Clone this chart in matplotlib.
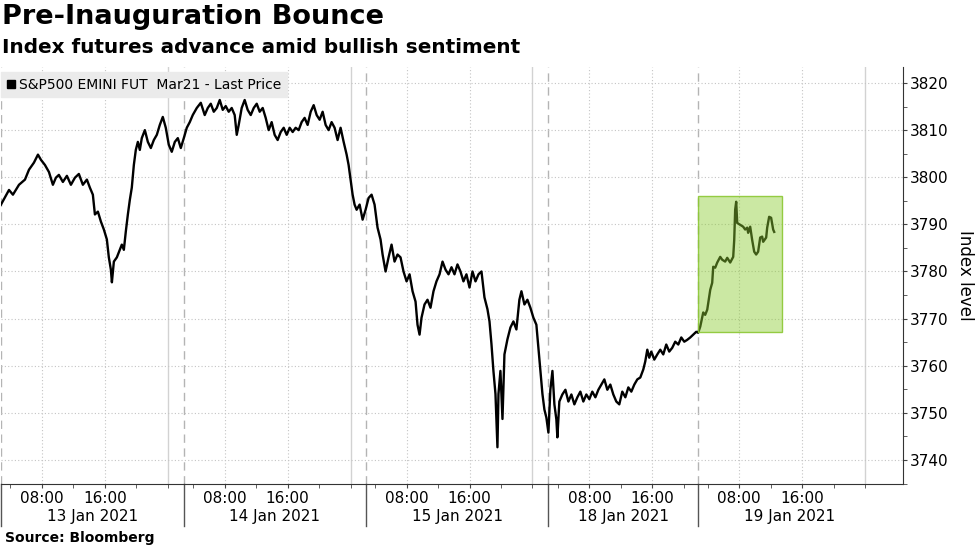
import numpy as np
import matplotlib.pyplot as plt
from matplotlib.lines import Line2D
from matplotlib.patches import Rectangle
from matplotlib.ticker import FixedLocator, MultipleLocator


# x = trading hours on the compressed Bloomberg axis (breaks/weekend removed)
day13 = [(0.00, 3794.2), (1.02, 3797.3), (1.52, 3796.3), (2.29, 3798.4), (3.05, 3799.5),
         (3.56, 3801.6), (4.19, 3803.1), (4.70, 3804.8), (5.08, 3803.7), (5.59, 3802.6),
         (6.10, 3801.1), (6.60, 3798.4), (6.98, 3799.9), (7.36, 3800.5), (7.87, 3799.0),
         (8.38, 3800.3), (8.89, 3798.4), (9.40, 3799.9), (9.90, 3800.7), (10.41, 3798.4),
         (10.92, 3799.5), (11.30, 3797.8), (11.68, 3796.3), (11.94, 3792.1), (12.32, 3792.7),
         (12.70, 3790.6), (13.08, 3788.9), (13.46, 3786.8), (13.71, 3783.0), (13.97, 3780.4),
         (14.10, 3777.7), (14.35, 3782.1), (14.73, 3783.0), (15.11, 3784.6), (15.36, 3785.7),
         (15.62, 3784.6), (15.87, 3788.5), (16.13, 3792.1), (16.38, 3795.2), (16.63, 3797.8),
         (16.89, 3802.6), (17.14, 3805.8), (17.40, 3807.5), (17.65, 3805.8), (17.90, 3808.3),
         (18.29, 3810.0), (18.67, 3807.5), (19.05, 3806.2), (19.43, 3807.9), (19.81, 3809.0),
         (20.19, 3811.1), (20.57, 3812.8), (20.95, 3810.5), (21.33, 3806.9), (21.71, 3805.4),
         (22.10, 3807.5), (22.48, 3808.3), (22.86, 3806.2), (23.24, 3808.3)]

day14 = [(23.62, 3810.5), (24.00, 3811.7), (24.38, 3813.2), (24.89, 3814.7), (25.40, 3815.8),
         (25.90, 3813.2), (26.29, 3814.7), (26.67, 3815.6), (27.05, 3813.9), (27.43, 3814.7),
         (27.81, 3816.4), (28.19, 3814.3), (28.57, 3815.1), (28.95, 3813.9), (29.33, 3814.7),
         (29.71, 3813.2), (29.97, 3809.0), (30.22, 3811.1), (30.60, 3814.7), (30.98, 3816.4),
         (31.36, 3814.3), (31.75, 3813.2), (32.13, 3814.7), (32.51, 3815.6), (32.89, 3813.9),
         (33.27, 3814.7), (33.65, 3812.6), (34.03, 3810.0), (34.41, 3811.7), (34.79, 3809.0),
         (35.17, 3807.9), (35.56, 3809.6), (35.94, 3810.5), (36.32, 3809.0), (36.70, 3810.5),
         (37.08, 3809.6), (37.46, 3810.5), (37.84, 3810.0), (38.22, 3811.7), (38.60, 3812.6),
         (38.98, 3811.1), (39.37, 3813.9), (39.75, 3815.3), (40.13, 3813.2), (40.51, 3812.2),
         (40.89, 3813.9), (41.27, 3811.1), (41.65, 3810.0), (42.03, 3811.7), (42.41, 3810.5),
         (42.79, 3807.9), (43.17, 3810.5), (43.56, 3807.5), (43.94, 3804.8), (44.19, 3802.6),
         (44.44, 3799.5), (44.70, 3796.3), (44.95, 3794.2), (45.21, 3793.1), (45.59, 3794.2),
         (45.97, 3791.0), (46.35, 3793.1)]

day15 = [(46.73, 3795.6), (47.11, 3796.3), (47.49, 3794.2), (47.87, 3789.3), (48.25, 3786.8),
         (48.51, 3783.6), (48.89, 3780.0), (49.27, 3783.0), (49.65, 3785.7), (50.03, 3782.1),
         (50.41, 3783.6), (50.79, 3783.0), (51.17, 3780.0), (51.56, 3777.9), (51.94, 3779.4),
         (52.32, 3775.8), (52.70, 3773.6), (52.95, 3768.7), (53.21, 3766.6), (53.46, 3770.2),
         (53.84, 3773.0), (54.22, 3774.0), (54.60, 3772.3), (54.98, 3775.8), (55.36, 3777.9),
         (55.75, 3779.4), (56.13, 3782.1), (56.51, 3780.4), (56.89, 3779.4), (57.27, 3780.9),
         (57.65, 3779.4), (58.03, 3781.5), (58.41, 3780.0), (58.79, 3777.9), (59.17, 3779.4),
         (59.56, 3776.6), (59.94, 3780.0), (60.32, 3777.9), (60.70, 3779.4), (61.08, 3780.0),
         (61.46, 3774.5), (61.84, 3772.0), (62.10, 3769.4), (62.35, 3764.6), (62.60, 3758.9),
         (62.86, 3754.0), (63.11, 3742.7), (63.24, 3754.0), (63.49, 3758.9), (63.75, 3748.7),
         (64.00, 3762.4), (64.38, 3765.6), (64.76, 3768.1), (65.14, 3769.4), (65.52, 3767.7),
         (65.90, 3774.0), (66.16, 3775.8), (66.54, 3773.0), (66.92, 3774.0), (67.30, 3772.3),
         (67.68, 3770.2), (68.06, 3768.7), (68.32, 3763.8), (68.57, 3758.9), (68.83, 3754.0),
         (69.08, 3750.7), (69.33, 3749.0), (69.59, 3745.8)]

day18 = [(69.84, 3754.9), (70.10, 3758.9), (70.35, 3751.8), (70.60, 3748.6), (70.73, 3744.8),
         (70.98, 3752.4), (71.36, 3753.9), (71.75, 3754.9), (72.13, 3752.4), (72.51, 3753.9),
         (72.89, 3751.8), (73.27, 3753.3), (73.65, 3754.5), (74.03, 3752.4), (74.41, 3753.9),
         (74.79, 3752.9), (75.17, 3754.5), (75.56, 3753.3), (75.94, 3754.9), (76.32, 3756.0),
         (76.70, 3757.1), (77.08, 3754.9), (77.46, 3756.0), (77.84, 3753.9), (78.22, 3752.4),
         (78.60, 3751.8), (78.98, 3754.5), (79.37, 3753.3), (79.75, 3755.4), (80.13, 3754.5),
         (80.51, 3756.0), (80.89, 3757.1), (81.27, 3757.5), (81.65, 3759.2), (81.90, 3760.9),
         (82.16, 3763.4), (82.41, 3761.7), (82.67, 3763.0), (83.05, 3761.3), (83.43, 3762.4),
         (83.81, 3763.4), (84.19, 3762.4), (84.57, 3764.5), (84.95, 3763.0), (85.33, 3763.8),
         (85.71, 3765.1), (86.10, 3764.5), (86.48, 3766.0), (86.86, 3765.1), (87.24, 3765.5),
         (87.62, 3766.0), (88.00, 3766.6), (88.38, 3767.2)]

day19 = [(88.63, 3767.0), (88.89, 3768.3), (89.27, 3771.3), (89.52, 3770.8), (89.78, 3771.9),
         (90.16, 3776.1), (90.41, 3777.6), (90.54, 3781.0), (90.79, 3780.8), (91.05, 3781.9),
         (91.43, 3783.1), (91.68, 3782.5), (92.06, 3782.1), (92.32, 3782.9), (92.70, 3781.9),
         (93.08, 3783.1), (93.21, 3786.7), (93.33, 3793.1), (93.46, 3794.8), (93.59, 3790.3),
         (93.97, 3789.9), (94.35, 3789.5), (94.60, 3788.9), (94.86, 3789.3), (94.98, 3788.2),
         (95.24, 3789.5), (95.49, 3786.7), (95.75, 3784.2), (96.00, 3783.6), (96.25, 3784.2),
         (96.51, 3787.2), (96.76, 3787.4), (96.89, 3786.3), (97.27, 3787.2), (97.40, 3789.3),
         (97.65, 3791.6), (97.90, 3791.4), (98.16, 3788.9), (98.29, 3788.4)]

days = ['13 Jan 2021', '14 Jan 2021', '15 Jan 2021', '18 Jan 2021', '19 Jan 2021']
# axis hour of local midnight for each day, and which clock hours get ticks
day_offset = [-2.8, 20.44, 43.56, 66.79, 85.84]
tick_hours = [[4, 8, 12, 16, 20, 24], [4, 8, 12, 16, 20, 24], [4, 8, 12, 16, 20, 24],
              [4, 8, 12, 16, 20], [4, 8, 12, 16, 20, 24]]
session_open = 2.8
last_session_len = 23.2
axis_end = 114.67

# highlighted rally
box_x = (88.63, 99.3)
box_y = (3767.2, 3796.0)

legend_label = 'S&P500 EMINI FUT  Mar21 - Last Price'


pts = np.array(day13 + day14 + day15 + day18 + day19)
hours, price = pts[:, 0], pts[:, 1]

fig = plt.figure(figsize=(9.77, 5.49), dpi=100)
ax = fig.add_axes([0.001, 0.1184, 0.9233, 0.7596])

ax.plot(hours, price, color='black', lw=1.7, zorder=3)
ax.add_patch(Rectangle((box_x[0], box_y[0]), box_x[1] - box_x[0], box_y[1] - box_y[0],
                       facecolor=(0.55, 0.8, 0.2, 0.45), edgecolor=(0.55, 0.78, 0.2, 0.9),
                       lw=1, zorder=4))

ax.set_xlim(0, axis_end)
ax.set_ylim(3734.9, 3823.4)

# x ticks
major, labels, minor = [], [], []
for off, th in zip(day_offset, tick_hours):
    for h in th:
        if h in (8, 16):
            major.append(off + h)
            labels.append('%02d:00' % h)
        else:
            minor.append(off + h)
ax.xaxis.set_major_locator(FixedLocator(major))
ax.set_xticklabels(labels)
ax.xaxis.set_minor_locator(FixedLocator(minor))

# midnights get a solid light line, session starts a dashed one
seps = [off + session_open for off in day_offset]
seps[0] = 0
for off, th in zip(day_offset, tick_hours):
    if 24 in th:
        ax.axvline(off + 24, color='#d2d2d2', lw=1, zorder=1)
trans = ax.get_xaxis_transform()
for s in seps:
    ax.axvline(s, color='#b4b4b4', lw=1, ls=(0, (6, 4)), zorder=1)
    ax.plot([s, s], [-0.1, 0], transform=trans, color='#555555', lw=1, clip_on=False)

ends = seps[1:] + [seps[-1] + last_session_len]
for d, a, b in zip(days, seps, ends):
    ax.text((a + b) / 2, -0.079, d, transform=trans, ha='center', va='center', fontsize=11)

# y axis on the right
ax.yaxis.tick_right()
ax.yaxis.set_label_position('right')
ax.set_yticks(np.arange(3740, 3821, 10))
ax.yaxis.set_minor_locator(MultipleLocator(5))
ax.set_ylabel('Index level', rotation=270, va='bottom', fontsize=12, labelpad=5)

ax.tick_params(axis='both', which='both', direction='out', length=3, color='#444444',
               labelsize=11, pad=2)
ax.grid(which='major', axis='both', ls=(0, (1, 2)), color='#c4c4c4', lw=0.8, zorder=0)

for side in ['top', 'left']:
    ax.spines[side].set_visible(False)
for side in ['right', 'bottom']:
    ax.spines[side].set_color('#333333')

handle = Line2D([], [], marker='s', color='black', ls='none', markersize=6)
leg = ax.legend([handle], [legend_label], loc='upper left', bbox_to_anchor=(0, 0.988),
                frameon=True, fancybox=False, facecolor='#ebebeb', edgecolor='#ebebeb',
                framealpha=1, fontsize=10, handlelength=0.6, handletextpad=0.3,
                borderpad=0.4, borderaxespad=0)

fig.text(0.002, 1 - 4 / 549, 'Pre-Inauguration Bounce', fontsize=19.5, weight='bold', va='top')
fig.text(0.002, 1 - 38 / 549, 'Index futures advance amid bullish sentiment',
         fontsize=14.4, weight='bold', va='top')
fig.text(0.005, 1 - 538 / 549, 'Source: Bloomberg', fontsize=10, weight='bold', va='center')

plt.savefig('out.png', dpi=100)
